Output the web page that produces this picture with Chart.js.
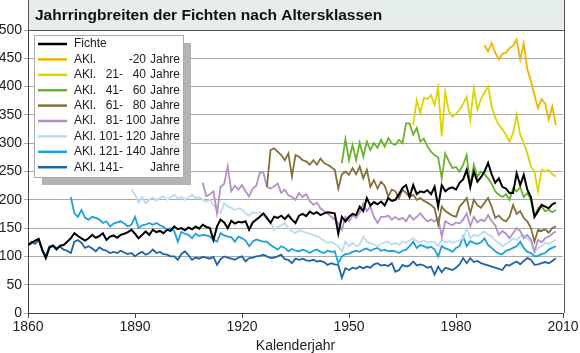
<!DOCTYPE html>
<html>
<head>
<meta charset="utf-8">
<script src="https://cdn.jsdelivr.net/npm/chart.js@4.4.1/dist/chart.umd.min.js"></script>
<style>
  html, body { margin: 0; padding: 0; background: #fff; }
</style>
</head>
<body>
<canvas id="ringChart" width="580" height="353"></canvas>
<script>
// Jahrringbreiten (yearly values), each series starts at its own year
const fichteStart = 1860;
const fichte = [
  120,124,128,131,112,97,115,119,112,119,
  120,126,132,141,136,132,128,132,138,133,
  136,141,129,135,137,133,138,140,143,147,
  140,132,138,144,138,147,143,145,141,147,
  145,153,148,150,146,151,148,153,149,156,
  152,150,129,153,165,160,150,163,158,161,
  160,162,147,160,165,170,176,168,159,170,
  168,172,166,173,165,159,172,175,171,179,
  175,178,173,176,178,177,176,140,170,162,
  170,175,173,188,180,203,190,196,192,197,
  190,203,198,200,210,221,226,205,226,210,
  215,213,217,210,223,188,226,215,220,222,
  218,230,236,253,223,250,232,240,250,265,
  245,230,238,223,220,212,212,247,226,244,
  218,205,170,180,191,188,185,192,195
];

const akl20Start = 1988;
const akl20 = [473,462,477,460,448,458,460,468,472,483,448,476,430,410,385,362,378,370,342,365,332];

const akl40Start = 1968;
const akl40 = [
  332,376,353,380,378,385,368,398,312,391,
  356,347,352,359,370,382,341,397,359,378,
  390,400,365,345,332,325,315,303,318,350,
  315,300,282,259,250,215,253,250,253,245,241
];

const akl60Start = 1948;
const akl60 = [
  265,307,270,297,270,301,276,303,288,300,292,306,
  294,309,300,297,306,300,335,335,315,327,
  303,308,294,285,279,275,238,282,268,256,
  258,250,262,279,223,262,241,250,245,238,
  228,215,209,205,210,200,220,215,222,205,
  212,200,170,185,188,180,182,178,182
];

const akl80Start = 1927;
const akl80 = [
  223,288,291,
  285,279,270,282,241,279,276,270,268,262,
  270,262,273,265,262,258,253,220,245,250,
  244,256,245,259,238,253,223,235,220,232,
  225,206,218,215,203,218,212,205,209,200,
  203,198,195,191,185,156,188,180,176,172,
  170,188,195,203,176,200,190,186,195,203,
  188,168,172,165,162,170,191,175,180,168,
  162,150,126,147,145,148,142,150,153
];

const akl100Start = 1909;
const akl100 = [
  230,
  206,210,215,176,223,228,259,215,225,218,
  226,215,206,220,225,248,248,223,220,224,
  229,212,218,208,205,200,212,205,210,198,
  191,195,185,180,176,170,165,159,147,170,
  162,173,168,178,194,180,188,170,159,170,
  170,172,165,170,165,168,162,173,165,170,
  176,168,162,165,162,168,135,162,158,155,
  160,158,165,176,153,170,160,165,162,173,
  162,155,138,145,140,132,141,150,145,132,
  138,130,109,129,125,132,135,140,144
];

const akl120Start = 1889;
const akl120 = [
  218,
  210,195,205,194,200,204,198,203,206,200,
  204,209,202,205,200,204,209,202,205,200,
  197,200,191,182,176,194,188,186,182,185,
  183,176,172,178,176,178,172,165,162,147,
  152,155,159,150,145,141,146,144,142,140,
  138,136,132,128,124,126,122,118,109,126,
  118,124,118,121,135,126,124,121,118,122,
  125,126,121,124,120,126,124,128,132,127,
  125,128,124,126,125,118,130,125,127,124,
  126,128,132,150,132,138,136,140,144,138,
  136,128,124,118,122,126,132,129,135,138,
  132,126,106,115,118,124,122,126,129
];

const akl140Start = 1872;
const akl140 = [
  205,176,170,182,168,165,170,168,
  165,159,162,153,158,160,162,158,153,156,
  170,150,155,156,159,156,159,155,152,147,
  150,145,126,143,140,138,132,140,136,138,
  137,135,130,126,141,137,135,134,126,135,
  132,128,118,126,130,128,126,126,120,116,
  112,118,115,109,113,110,109,112,110,106,
  110,112,108,106,110,108,109,88,100,104,
  105,108,110,108,112,114,110,113,115,110,
  112,109,110,109,106,110,112,118,126,115,
  120,118,115,117,112,100,118,114,112,108,
  115,118,135,118,127,124,122,125,132,120,
  115,109,105,104,110,112,115,118,126,115,
  108,106,100,101,104,106,112,115,118
];

const akl141Start = 1860;
const akl141 = [
  120,126,122,129,110,100,118,119,115,117,
  112,110,106,126,129,124,115,118,114,109,
  116,112,110,106,108,106,110,107,104,106,
  100,105,108,103,106,112,106,108,104,103,
  100,100,94,104,109,102,94,98,96,99,
  98,96,99,85,95,100,98,96,94,98,
  100,91,97,98,100,101,103,100,97,98,
  100,103,95,94,88,96,94,96,93,92,
  94,91,92,90,85,88,86,85,62,79,
  76,80,78,82,79,82,80,86,88,84,
  85,83,88,73,76,85,82,84,91,84,
  86,84,80,82,68,82,72,80,78,76,
  80,86,97,88,97,90,92,88,86,84,
  82,80,78,76,85,84,88,91,86,92,
  97,94,85,86,88,90,88,92,97
];

const yearTicks = [1860, 1890, 1920, 1950, 1980, 2010];
const valueTicks = [0, 50, 100, 150, 200, 250, 300, 350, 400, 450, 500];

const legendNames = ['Fichte', 'AKl.', 'AKl.', 'AKl.', 'AKl.', 'AKl.', 'AKl.', 'AKl.', 'AKl.'];
const legendFrom = ['', '', '21-', '41-', '61-', '81-', '101-', '121-', '141-'];
const legendTo = ['', '-20', '40', '60', '80', '100', '120', '140', ''];
const lineColors = ['#000000', '#f0b400', '#dcd400', '#68b22c', '#86703a', '#b390c8', '#badcf0', '#1ea0dc', '#1b64aa'];

const titleText = 'Jahrringbreiten der Fichten nach Altersklassen';
const FONT = '"Liberation Sans", Arial, sans-serif';

function toPoints(start, vals) {
  return vals.map((v, i) => ({ x: start + i, y: v }));
}

const seriesData = [
  toPoints(fichteStart, fichte),
  toPoints(akl20Start, akl20),
  toPoints(akl40Start, akl40),
  toPoints(akl60Start, akl60),
  toPoints(akl80Start, akl80),
  toPoints(akl100Start, akl100),
  toPoints(akl120Start, akl120),
  toPoints(akl140Start, akl140),
  toPoints(akl141Start, akl141)
];

// black line drawn on top
const datasets = seriesData.map((d, i) => ({
  label: legendNames[i] + ' ' + legendFrom[i] + ' ' + legendTo[i],
  data: d,
  borderColor: lineColors[i],
  borderWidth: i === 0 ? 2 : 1.8,
  pointRadius: 0,
  tension: 0,
  order: i === 0 ? 0 : 1
}));

const framePlugin = {
  id: 'frame',
  beforeDraw(chart) {
    const { ctx, chartArea } = chart;
    ctx.save();
    ctx.fillStyle = '#e6eee9';
    ctx.fillRect(chartArea.left, 0, chartArea.right - chartArea.left + 2, chartArea.top);
    ctx.restore();
  },
  afterDraw(chart) {
    const { ctx, chartArea } = chart;
    const l = chartArea.left, r = chartArea.right, t = chartArea.top, b = chartArea.bottom;
    ctx.save();
    // title box + right frame
    ctx.strokeStyle = '#555';
    ctx.lineWidth = 1;
    ctx.beginPath();
    ctx.moveTo(l + 0.5, 0); ctx.lineTo(l + 0.5, t);
    ctx.moveTo(l, t + 0.5); ctx.lineTo(r + 2, t + 0.5);
    ctx.moveTo(r + 1.5, 0); ctx.lineTo(r + 1.5, b);
    ctx.stroke();
    ctx.fillStyle = '#111';
    ctx.font = 'bold 15.5px ' + FONT;
    ctx.textBaseline = 'middle';
    ctx.textAlign = 'left';
    ctx.fillText(titleText, 35, 16);

    // legend
    const lx = 34, ly = 35, lw = 149, lh = 142;
    ctx.fillStyle = '#b4b4b4';
    ctx.fillRect(lx + 8, ly + 8, lw, lh);
    ctx.fillStyle = '#fff';
    ctx.fillRect(lx, ly, lw, lh);
    ctx.strokeStyle = '#aaa';
    ctx.strokeRect(lx + 0.5, ly + 0.5, lw, lh);
    ctx.font = '12px ' + FONT;
    ctx.fillStyle = '#222';
    for (let i = 0; i < legendNames.length; i++) {
      const y = 44 + i * 15.4;
      ctx.strokeStyle = lineColors[i];
      ctx.lineWidth = 2.5;
      ctx.beginPath();
      ctx.moveTo(38, y); ctx.lineTo(67, y);
      ctx.stroke();
      ctx.textAlign = 'left';
      ctx.fillText(legendNames[i], 74, y);
      if (i > 0) {
        ctx.textAlign = 'right';
        ctx.fillText(legendFrom[i], 123, y);
        ctx.fillText(legendTo[i], 146, y);
        ctx.fillText('Jahre', 180, y);
      }
    }
    ctx.restore();
  }
};

new Chart(document.getElementById('ringChart'), {
  type: 'line',
  data: { datasets: datasets },
  plugins: [framePlugin],
  options: {
    responsive: false,
    animation: false,
    layout: { padding: { left: 0, right: 17, top: 30, bottom: 0 } },
    plugins: { legend: { display: false }, tooltip: { enabled: false } },
    scales: {
      x: {
        type: 'linear',
        min: 1860,
        max: 2010,
        afterBuildTicks: s => { s.ticks = yearTicks.map(v => ({ value: v })); },
        afterFit: s => { s.height = 40; },
        ticks: { color: '#222', font: { family: FONT, size: 14 }, padding: 1, maxRotation: 0, callback: v => String(v) },
        grid: { drawOnChartArea: false, drawTicks: true, tickLength: 5, color: '#444' },
        border: { color: '#444', width: 1 },
        title: { display: true, text: 'Kalenderjahr', color: '#222', font: { family: FONT, size: 14, lineHeight: 1 }, padding: 0 }
      },
      y: {
        min: 0,
        max: 500,
        afterBuildTicks: s => { s.ticks = valueTicks.map(v => ({ value: v })); },
        afterFit: s => { s.width = 28; },
        ticks: { color: '#222', font: { family: FONT, size: 14 }, padding: 2, callback: v => String(v) },
        grid: { color: '#aaaaaa', tickLength: 4 },
        border: { color: '#444', width: 1 }
      }
    }
  }
});
</script>
</body>
</html>
